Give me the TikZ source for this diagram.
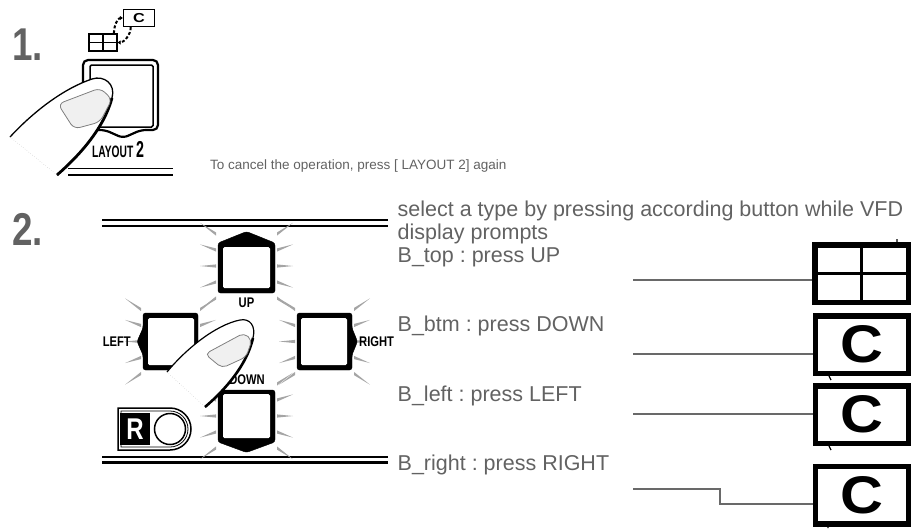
\documentclass[tikz,border=0pt]{standalone}
\usepackage{fontspec}
\setmainfont{Liberation Sans}
\newfontfamily\condfont[FakeStretch=0.8]{Liberation Sans}
\newfontfamily\narrowfont[FakeStretch=0.62]{Liberation Sans}
\usetikzlibrary{arrows.meta}
\frenchspacing
\definecolor{txtgray}{RGB}{98,98,98}
\definecolor{raygray}{RGB}{165,165,165}
\definecolor{wiregray}{RGB}{105,105,105}
\definecolor{nailgray}{RGB}{240,240,240}
\newcommand{\setup}{
    \coordinate (w1) at (633,280);   % wire starts
    \coordinate (w2) at (633,354);
    \coordinate (w3) at (633,414);
    \coordinate (w4) at (633,489);
    \coordinate (w4b) at (720,504);
}
% rays round a key: left edge, right edge, centre y
\newcommand{\glow}[3]{
  \foreach \dy in {-32,-16,0,16,32}{
    \fill[raygray] ({#1-2},{#3+\dy-1.6}) -- ({#1-2},{#3+\dy+1.6}) -- ({#1-18},{#3+\dy*1.35}) -- cycle;
    \fill[raygray] ({#2+2},{#3+\dy-1.6}) -- ({#2+2},{#3+\dy+1.6}) -- ({#2+18},{#3+\dy*1.35}) -- cycle;
  }
}
\begin{document}
\begin{tikzpicture}[x=1pt,y=-1pt,
    desc/.style={text=txtgray,inner sep=0,anchor=base west,font=\fontsize{21.5}{22.7}\selectfont},
    keylabel/.style={inner sep=0,font=\condfont\bfseries\fontsize{14}{14}\selectfont},
    screen/.style={draw,line width=5.5pt,minimum width=93.5,minimum height=57.5,inner sep=0,
                   font=\bfseries\fontsize{53}{53}\selectfont},
    wire/.style={draw=wiregray,line width=1.3pt},
    nail/.style={fill=nailgray,draw=black!50,line width=0.8pt}]
\useasboundingbox (0,0) rectangle (911,528);
\setup;

% step numbers
\node[inner sep=0,anchor=base west,text=txtgray,font=\condfont\bfseries\fontsize{46}{46}\selectfont] (one) at (12,60) {1.};
\node[inner sep=0,anchor=base west,text=txtgray,font=\condfont\bfseries\fontsize{46}{46}\selectfont] (two) at (12,245) {2.};

% step 1: layout icons
\node[draw,line width=1.3pt,minimum width=28,minimum height=17,inner sep=0] (qicon) at (103,42.5) {};
\draw[line width=1.1pt] (qicon.north) -- (qicon.south) (qicon.west) -- (qicon.east);
\node[draw,line width=1.3pt,minimum width=31,minimum height=17,inner sep=0,font=\bfseries\fontsize{13}{13}\selectfont] (cicon) at (139,18) {\scalebox{1.25}[1]{C}};
\draw[line width=2pt,dash pattern=on 3pt off 2pt,-{Triangle[length=3pt,width=4pt]}] (qicon.40) .. controls +(0,-8) and +(-5,0) .. (cicon.west);
\draw[line width=2pt,dash pattern=on 3pt off 2pt,-{Triangle[length=3pt,width=4pt]}] (cicon.-132) .. controls +(0,8) and +(6,0) .. (qicon.east);

% step 1: LAYOUT 2 key
\draw[line width=2.2pt,rounded corners=5pt] (105,130) -- (83,130) -- (83,60) -- (158,60) -- (158,130) -- (141,130) -- (123,138) -- cycle;
\draw[line width=1.5pt,rounded corners=1.5pt] (90,65) rectangle (153,127);
\node[inner sep=0,anchor=base west] (laylab) at (92,157) {\narrowfont\bfseries\fontsize{16.5}{16.5}\selectfont LAYOUT\,\fontsize{23}{23}\selectfont 2};
\draw[line width=1.8pt] (68,168.5) -- (173,168.5);
\draw[line width=2.2pt] (68,175) -- (173,175);

% finger 1
\filldraw[fill=white,line width=1.3pt] (57,175) .. controls (80,155) and (104,128) .. (112,98) .. controls (116,84) and (104,75) .. (92,79) .. controls (65,88) and (35,110) .. (10,137);
\draw[line width=2.8pt] (57,175) .. controls (80,155) and (104,128) .. (112,98);
\draw[dotted,black!30] (10,137) -- (57,175);
\filldraw[nail,rounded corners=6pt] (58,104) -- (100,88) -- (112,99) -- (100,122) -- (74,129) -- cycle;

\node[inner sep=0,anchor=base west,text=txtgray,font=\fontsize{13.5}{13.5}\selectfont] (cancel) at (210,169) {To cancel the operation, press [ LAYOUT 2] again};

% step 2: panel
\draw[line width=1.4pt] (102,220) -- (388,220);
\draw[line width=2.4pt] (102,226) -- (388,226);
\draw[line width=1.4pt] (102,457) -- (388,457);
\draw[line width=2.4pt] (102,462.5) -- (388,462.5);

\glow{218}{275}{266}
\glow{143}{198}{341.5}
\glow{297}{352}{341.5}
\glow{218}{275}{416}

% keys
\filldraw[rounded corners=2.5pt] (218,243) -- (246.5,231.5) -- (275,243) -- (275,293) -- (218,293) -- cycle;
\fill[white,rounded corners=1.5pt] (223,247) rectangle (270,288);
\filldraw[rounded corners=2.5pt] (218,390) -- (275,390) -- (275,442) -- (246.5,452.5) -- (218,442) -- cycle;
\fill[white,rounded corners=1.5pt] (223,394) rectangle (270,438);
\filldraw[rounded corners=2.5pt] (143,313) -- (198,313) -- (198,370) -- (143,370) -- (143,355) -- (137,341.5) -- (143,328) -- cycle;
\fill[white,rounded corners=1.5pt] (148,318) rectangle (194,365);
\filldraw[rounded corners=2.5pt] (297,313) -- (352,313) -- (352,328) -- (357.5,341.5) -- (352,355) -- (352,370) -- (297,370) -- cycle;
\fill[white,rounded corners=1.5pt] (301,318) rectangle (347,365);

\node[keylabel] (uplab) at (246.5,303) {UP};
\node[keylabel,anchor=east] (leftlab) at (131,342) {LEFT};
\node[keylabel,anchor=west] (rightlab) at (359,342) {RIGHT};
\node[keylabel] (downlab) at (247,380) {DOWN};

% remote sensor
\draw[line width=1.5pt] (118,408) -- (170,408) arc(-90:90:21) -- (118,450) -- cycle;
\draw[line width=0.8pt] (121,411) -- (170,411) arc(-90:90:18) -- (121,447) -- cycle;
\draw[line width=1.5pt] (170,429) circle (15.5);
\node[fill=black,text=white,minimum width=30,minimum height=32,inner sep=0,font=\condfont\bfseries\fontsize{30}{30}\selectfont] (rkey) at (135,429) {R};

% finger 2
\filldraw[fill=white,line width=1.2pt] (205,407) .. controls (225,390) and (247,365) .. (253,338) .. controls (256,326) and (250,318) .. (240,320) .. controls (215,325) and (185,350) .. (167,372);
\draw[line width=2.6pt] (205,407) .. controls (225,390) and (247,365) .. (253,338);
\draw[dotted,black!30] (167,372) -- (205,407);
\filldraw[nail,rounded corners=5pt] (205,354) -- (244,333) -- (252,340) -- (246,357) -- (222,368) -- cycle;

% texts
\node[desc] (sel1) at (397.5,216.5) {select a type by pressing according button while VFD};
\node[desc] (sel2) at (397.5,239.2) {display prompts};
\node[desc] (btop) at (397.5,262) {B\_top : press UP};
\node[desc] (bbtm) at (397.5,331.7) {B\_btm : press DOWN};
\node[desc] (bleft) at (397.5,401.7) {B\_left : press LEFT};
\node[desc] (bright) at (397.5,470) {B\_right : press RIGHT};

% screens
\node[screen] (quad) at (861.5,273.5) {};
\draw[line width=3.5pt] (quad.north) -- (quad.south) (quad.west) -- (quad.east);
\node[screen] (scrbtm) at (862,344.5) {\scalebox{1.12}[1]{C}};
\node[screen] (scrleft) at (862,414.5) {\scalebox{1.12}[1]{C}};
\node[screen] (scrright) at (862,495) {\scalebox{1.12}[1]{C}};
\draw[line width=1.2pt] (829,376) -- (831,380) (829,446) -- (831,450) (897,239) -- (897,243) (828,524) -- (828,528);

% wires
\draw[wire] (w1) -- (w1 -| quad.west);
\draw[wire] (w2) -- (w2 -| scrbtm.west);
\draw[wire] (w3) -- (w3 -| scrleft.west);
\draw[wire] (w4) -| (w4b) -- (w4b -| scrright.west);
\end{tikzpicture}
\end{document}
